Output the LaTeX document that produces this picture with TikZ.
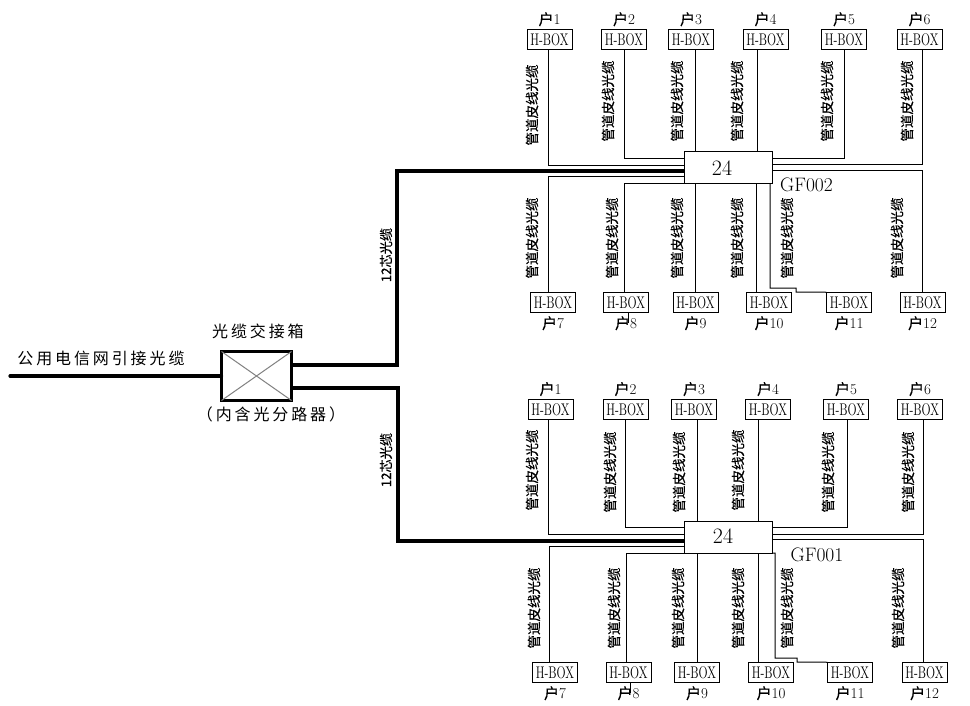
\documentclass[tikz,border=0pt]{standalone}
\usepackage{fontspec}
\usepackage{graphicx}
\newfontfamily\cjk{Noto Sans CJK SC}
\newfontfamily\cjkfat[FakeBold=0.5]{Noto Sans CJK SC}
\newfontfamily\cjkwide[LetterSpace=18]{Noto Sans CJK SC}
\usetikzlibrary{positioning}
\newcommand{\huhao}[1]{{\cjkfat 户}#1}
\newcommand{\hboxtext}{\scalebox{0.88}[1.25]{H-BOX}}
\newcommand{\pipetext}{管道皮线光缆}
\tikzset{box node/.style={draw,minimum width=45pt,minimum height=20.5pt,inner sep=0pt,outer sep=0pt,font=\fontsize{13.5}{15}\selectfont},
	hub node/.style={draw,minimum width=88pt,minimum height=32pt,inner sep=0pt,outer sep=0pt,font=\fontsize{22}{24}\selectfont},
	cross node/.style={draw,line width=3.8pt,minimum width=70pt,minimum height=49pt,inner sep=0pt,outer sep=0pt},
	house node/.style={inner sep=0pt,font=\fontsize{15}{16}\selectfont},
	pipe node/.style={rotate=90,inner sep=0pt,font=\cjkfat\fontsize{13.5}{15}\selectfont},
	core node/.style={rotate=90,inner sep=0pt,font=\cjkfat\fontsize{13.2}{15}\selectfont},
	title node/.style={inner sep=0pt,font=\cjkwide\fontsize{16}{18}\selectfont},
	gf node/.style={inner sep=0pt,font=\fontsize{19.5}{21}\selectfont},
	thin cable/.style={line width=1pt},
	thick cable/.style={line width=4pt},
	feed cable/.style={line width=3.2pt,line cap=round}}

\begin{document}
\begin{tikzpicture}[x=1pt,y=-1pt,thin cable]
	\useasboundingbox (0,0) rectangle (970,705);

	% splice box
	\node[cross node] (xbox) at (256.5,376) {};
	\node[title node] (xtop) at (258,331) {光缆交接箱};
	\node[title node] (xbot) at (271,414) {（内含光分路器）};
	\node[title node] (xin) at (101,358) {公用电信网引接光缆};
	\coordinate (in) at (10,376);
	\coordinate (tja) at (397,171);
	\coordinate (tjb) at (398,541);
	\node[core node] (corea) at (386,255) {12芯光缆};
	\node[core node] (coreb) at (386,460) {12芯光缆};

	% GF002
	\node[hub node] (huba) at (728,167) {};
	\node[inner sep=0pt,font=\fontsize{22}{24}\selectfont] (numa) at (722,168) {24};
	\node[gf node] (gfa) at (806.5,185) {GF002};

	\node[box node] (ha1) at (549.5,39.5) {\hboxtext};
	\node[box node] (ha2) [right = 29.5pt of ha1] {\hboxtext};
	\node[box node] (ha3) [right = 22pt of ha2] {\hboxtext};
	\node[box node] (ha4) [right = 29.5pt of ha3] {\hboxtext};
	\node[box node] (ha5) [right = 33.5pt of ha4] {\hboxtext};
	\node[box node] (ha6) [right = 30.5pt of ha5] {\hboxtext};
	\node[box node] (ha7) at (553,302.5) {\hboxtext};
	\node[box node] (ha8) [right = 28pt of ha7] {\hboxtext};
	\node[box node] (ha9) [right = 24.5pt of ha8] {\hboxtext};
	\node[box node] (ha10) [right = 28.5pt of ha9] {\hboxtext};
	\node[box node] (ha11) [right = 35pt of ha10] {\hboxtext};
	\node[box node] (ha12) [right = 28.5pt of ha11] {\hboxtext};

	\node[house node] (pa1) [above = 2.5pt of ha1] {\huhao{1}};
	\node[house node] (pa2) [above = 2.5pt of ha2] {\huhao{2}};
	\node[house node] (pa3) [above = 2.5pt of ha3] {\huhao{3}};
	\node[house node] (pa4) [above = 2.5pt of ha4] {\huhao{4}};
	\node[house node] (pa5) [above = 2.5pt of ha5] {\huhao{5}};
	\node[house node] (pa6) [above = 2.5pt of ha6] {\huhao{6}};
	\node[house node] (pa7) [below = 3pt of ha7] {\huhao{7}};
	\node[house node] (pa8) [below = 3pt of ha8] {\huhao{8}};
	\node[house node] (pa9) [below = 3pt of ha9] {\huhao{9}};
	\node[house node] (pa10) [below = 3pt of ha10] {\huhao{10}};
	\node[house node] (pa11) [below = 3pt of ha11] {\huhao{11}};
	\node[house node] (pa12) [below = 3pt of ha12] {\huhao{12}};

	\node[pipe node] (ta1) at (532,105) {\pipetext};
	\node[pipe node] (ta2) at (608,101) {\pipetext};
	\node[pipe node] (ta3) at (677,101) {\pipetext};
	\node[pipe node] (ta4) at (737,101) {\pipetext};
	\node[pipe node] (ta5) at (827,101) {\pipetext};
	\node[pipe node] (ta6) at (907,101) {\pipetext};
	\node[pipe node] (ta7) at (532,238) {\pipetext};
	\node[pipe node] (ta8) at (612,238) {\pipetext};
	\node[pipe node] (ta9) at (677,238) {\pipetext};
	\node[pipe node] (ta10) at (737,238) {\pipetext};
	\node[pipe node] (ta11) at (787,238) {\pipetext};
	\node[pipe node] (ta12) at (897,238) {\pipetext};

	\coordinate (ka1) at (796,288);
	\coordinate (ka2) at (796,292);

	\draw ([xshift=-1.5pt]ha1.south) |- ([yshift=2pt]huba.west);
	\draw (ha2.south) |- ([yshift=9pt]huba.west);
	\draw ([xshift=4pt]ha3.south) -- ([xshift=4pt]ha3.south |- huba.north);
	\draw ([xshift=-8pt]ha4.south) -- ([xshift=-8pt]ha4.south |- huba.north);
	\draw (ha5.south) |- ([yshift=9pt]huba.east);
	\draw ([xshift=2.5pt]ha6.south) |- ([yshift=3pt]huba.east);
	\draw ([xshift=-5pt]ha7.north) |- ([yshift=-9.7pt]huba.west);
	\draw ([xshift=-2pt]ha8.north) |- (huba.south west);
	\draw (ha9.north) -- (ha9.north |- huba.south);
	\draw ([xshift=-13pt]ha10.north) -- ([xshift=-13pt]ha10.north |- huba.south);
	\draw ([xshift=-2pt]huba.south east) |- (ka1) -- (ka2) -- (ha11.north west);
	\draw (ha12.north) |- ([yshift=-3.7pt]huba.east);
	\draw ([xshift=2pt]ha8.south) -- ([xshift=2pt]ha8.south |- pa8.center);

	% GF001
	\node[hub node] (hubb) at (728,537) {};
	\node[inner sep=0pt,font=\fontsize{22}{24}\selectfont] (numb) at (723,536) {24};
	\node[gf node] (gfb) at (817,555) {GF001};

	\node[box node] (hb1) at (550.5,409.3) {\hboxtext};
	\node[box node] (hb2) [right = 30pt of hb1] {\hboxtext};
	\node[box node] (hb3) [right = 23.5pt of hb2] {\hboxtext};
	\node[box node] (hb4) [right = 29pt of hb3] {\hboxtext};
	\node[box node] (hb5) [right = 33pt of hb4] {\hboxtext};
	\node[box node] (hb6) [right = 29pt of hb5] {\hboxtext};
	\node[box node] (hb7) at (555,672.5) {\hboxtext};
	\node[box node] (hb8) [right = 28.5pt of hb7] {\hboxtext};
	\node[box node] (hb9) [right = 23.5pt of hb8] {\hboxtext};
	\node[box node] (hb10) [right = 29pt of hb9] {\hboxtext};
	\node[box node] (hb11) [right = 34pt of hb10] {\hboxtext};
	\node[box node] (hb12) [right = 29.5pt of hb11] {\hboxtext};

	\node[house node] (pb1) [above = 2.5pt of hb1] {\huhao{1}};
	\node[house node] (pb2) [above = 2.5pt of hb2] {\huhao{2}};
	\node[house node] (pb3) [above = 2.5pt of hb3] {\huhao{3}};
	\node[house node] (pb4) [above = 2.5pt of hb4] {\huhao{4}};
	\node[house node] (pb5) [above = 2.5pt of hb5] {\huhao{5}};
	\node[house node] (pb6) [above = 2.5pt of hb6] {\huhao{6}};
	\node[house node] (pb7) [below = 3pt of hb7] {\huhao{7}};
	\node[house node] (pb8) [below = 3pt of hb8] {\huhao{8}};
	\node[house node] (pb9) [below = 3pt of hb9] {\huhao{9}};
	\node[house node] (pb10) [below = 3pt of hb10] {\huhao{10}};
	\node[house node] (pb11) [below = 3pt of hb11] {\huhao{11}};
	\node[house node] (pb12) [below = 3pt of hb12] {\huhao{12}};

	\node[pipe node] (tb1) at (532,470) {\pipetext};
	\node[pipe node] (tb2) at (610,472) {\pipetext};
	\node[pipe node] (tb3) at (679,472) {\pipetext};
	\node[pipe node] (tb4) at (738,470) {\pipetext};
	\node[pipe node] (tb5) at (828,472) {\pipetext};
	\node[pipe node] (tb6) at (908,472) {\pipetext};
	\node[pipe node] (tb7) at (534,608) {\pipetext};
	\node[pipe node] (tb8) at (614,608) {\pipetext};
	\node[pipe node] (tb9) at (678,608) {\pipetext};
	\node[pipe node] (tb10) at (738,608) {\pipetext};
	\node[pipe node] (tb11) at (787,608) {\pipetext};
	\node[pipe node] (tb12) at (898,608) {\pipetext};

	\coordinate (kb0) at (775,553);
	\coordinate (kb1) at (797,658);
	\coordinate (kb2) at (797,662);

	\draw ([xshift=-2pt]hb1.south) |- ([yshift=3pt]hubb.west);
	\draw (hb2.south) |- ([yshift=10pt]hubb.west);
	\draw ([xshift=3pt]hb3.south) -- ([xshift=3pt]hb3.south |- hubb.north);
	\draw ([xshift=-10pt]hb4.south) -- ([xshift=-10pt]hb4.south |- hubb.north);
	\draw ([xshift=1pt]hb5.south) |- ([yshift=10pt]hubb.east);
	\draw ([xshift=3pt]hb6.south) |- ([yshift=3pt]hubb.east);
	\draw ([xshift=-6pt]hb7.north) |- ([yshift=-9pt]hubb.west);
	\draw ([xshift=-2.5pt]hb8.north) |- (hubb.south west);
	\draw (hb9.north) -- (hb9.north |- hubb.south);
	\draw ([xshift=-13pt]hb10.north) -- ([xshift=-13pt]hb10.north |- hubb.south);
	\draw (hubb.south east) -- (kb0) |- (kb1) -- (kb2) -- (hb11.north west);
	\draw ([xshift=-1.5pt]hb12.north) |- ([yshift=-2pt]hubb.east);
	\draw ([xshift=1.5pt]hb8.south) -- ([xshift=1.5pt]hb8.south |- pb8.center);

	% splice box cross and trunk cables
	\draw[gray] (xbox.north west) -- (xbox.south east);
	\draw[gray] (xbox.south west) -- (xbox.north east);
	\draw[feed cable] (in) -- (xbox.west);
	\draw[thick cable] ([yshift=11pt]xbox.east) -| (tja) -- ([yshift=-4pt]huba.west);
	\draw[thick cable] ([yshift=-11.5pt]xbox.east) -| (tjb) -- ([yshift=-4pt]hubb.west);
\end{tikzpicture}
\end{document}
